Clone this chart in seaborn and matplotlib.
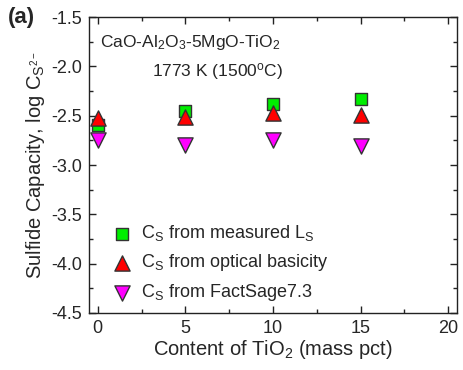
import seaborn as sns
import matplotlib.pyplot as plt
import pandas as pd

# Data
tio2 = [0, 5, 10, 15]
cs_measured = [-2.59, -2.45, -2.38, -2.33]
cs_optical = [-2.52, -2.51, -2.47, -2.49]
cs_factsage = [-2.75, -2.80, -2.75, -2.81]

sns.set_style("ticks")
plt.rcParams['font.family'] = ['Liberation Sans', 'DejaVu Sans']
plt.rcParams['mathtext.fontset'] = 'custom'
plt.rcParams['mathtext.rm'] = 'Liberation Sans'
plt.rcParams['mathtext.it'] = 'Liberation Sans'
plt.rcParams['mathtext.default'] = 'regular'

df = pd.DataFrame({"x": tio2, "meas": cs_measured, "opt": cs_optical, "fs": cs_factsage})

fig = plt.figure(figsize=(4.63, 3.70), dpi=100)
ax = fig.add_axes([89 / 463, 1 - 313 / 370, (457 - 89) / 463, (313 - 17) / 370])

sns.scatterplot(data=df, x="x", y="meas", marker="s", s=75, color="#00ee00",
                edgecolor="#333333", linewidth=1, label="C$_S$ from measured L$_S$", ax=ax, zorder=3)
sns.scatterplot(data=df, x="x", y="opt", marker="^", s=120, color="#ff0000",
                edgecolor="#333333", linewidth=1, label="C$_S$ from optical basicity", ax=ax, zorder=3)
sns.scatterplot(data=df, x="x", y="fs", marker="v", s=120, color="#ff00ff",
                edgecolor="#333333", linewidth=1, label="C$_S$ from FactSage7.3", ax=ax, zorder=3)

ax.set_xlim(-0.5, 20.5)
ax.set_ylim(-4.5, -1.5)
ax.set_xticks([0, 5, 10, 15, 20])
ax.set_xticks([2.5, 7.5, 12.5, 17.5], minor=True)
ax.set_yticks([-4.5, -4.0, -3.5, -3.0, -2.5, -2.0, -1.5])
ax.set_yticklabels(["-4.5", "-4.0", "-3.5", "-3.0", "-2.5", "-2.0", "-1.5"])
ax.set_yticks([-4.25, -3.75, -3.25, -2.75, -2.25, -1.75], minor=True)
ax.tick_params(which="both", direction="in", top=True, right=True, labelsize=13, width=1, color="#222222")
ax.tick_params(which="major", length=5, pad=5)
ax.tick_params(which="minor", length=3)
for sp in ax.spines.values():
    sp.set_linewidth(1)
    sp.set_color("#222222")

ax.set_xlabel("Content of TiO$_2$ (mass pct)", fontsize=14.5, labelpad=1)
ax.set_ylabel("Sulfide Capacity, log C$_{S^{2-}}$", fontsize=14.5, labelpad=3)

ax.text(0.03, 0.915, "CaO-Al$_2$O$_3$-5MgO-TiO$_2$", transform=ax.transAxes, fontsize=12.5, va="center")
ax.text(0.17, 0.815, "1773 K (1500$^o$C)", transform=ax.transAxes, fontsize=12.5, va="center")
fig.text(8 / 463, 1 - 17 / 370, "(a)", fontsize=16, fontweight="bold", va="center")

ax.legend(loc="lower left", bbox_to_anchor=(0.034, 0.008), frameon=False, fontsize=13,
          handletextpad=0.3, labelspacing=0.5, borderaxespad=0, handlelength=1.5)

fig.savefig("out.png", dpi=100)
